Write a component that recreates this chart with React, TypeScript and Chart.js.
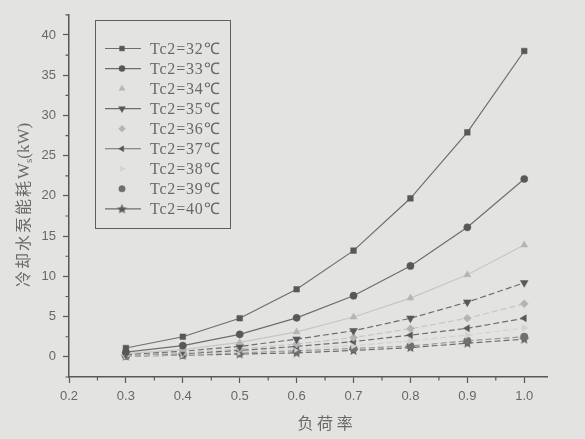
import React, { useEffect, useRef } from "react";
import { Chart, registerables } from "chart.js";
import { drawPoint } from "chart.js/helpers";

Chart.register(...registerables);

const loadRate = [0.3, 0.4, 0.5, 0.6, 0.7, 0.8, 0.9, 1.0];
const tc32 = [1.1, 2.5, 4.8, 8.4, 13.2, 19.7, 27.9, 38.0];
const tc33 = [0.6, 1.4, 2.8, 4.85, 7.6, 11.3, 16.1, 22.1];
const tc34 = [0.4, 0.9, 1.8, 3.1, 4.95, 7.3, 10.2, 13.9];
const tc35 = [0.3, 0.7, 1.3, 2.2, 3.25, 4.8, 6.8, 9.2];
const tc36 = [0.2, 0.5, 1.0, 1.6, 2.4, 3.5, 4.8, 6.6];
const tc37 = [0.2, 0.4, 0.8, 1.3, 1.9, 2.7, 3.55, 4.8];
const tc38 = [0.15, 0.3, 0.6, 1.0, 1.4, 2.0, 2.7, 3.6];
const tc39 = [0.12, 0.25, 0.5, 0.75, 1.05, 1.35, 2.0, 2.5];
const tc40 = [0.1, 0.2, 0.35, 0.5, 0.8, 1.15, 1.7, 2.2];
const seriesNames = [
  "Tc2=32℃", "Tc2=33℃", "Tc2=34℃", "Tc2=35℃", "Tc2=36℃",
  "Tc2=37℃", "Tc2=38℃", "Tc2=39℃", "Tc2=40℃",
];
const allSeries = [tc32, tc33, tc34, tc35, tc36, tc37, tc38, tc39, tc40];
const xTicks = [0.2, 0.3, 0.4, 0.5, 0.6, 0.7, 0.8, 0.9, 1.0];
const xMinorTicks = [0.25, 0.35, 0.45, 0.55, 0.65, 0.75, 0.85, 0.95];
const yTicks = [0, 5, 10, 15, 20, 25, 30, 35, 40];
const yMinorTicks = [-2.5, 2.5, 7.5, 12.5, 17.5, 22.5, 27.5, 32.5, 37.5, 42.5];
const xTitle = "负 荷 率";
const yTitleCjk = "冷却水泵能耗";
const yTitleMain = "W";
const yTitleSub = "s";
const yTitleEnd = "(kW)";

const DARK = "#585858";
const LINE = "#6e6e6e";
const LIGHT = "#b4b4b4";
const LIGHTLINE = "#c6c6c6";
const FAINT = "#d2d2d2";
const TEXT = "#686868";

function makeStar(color: string) {
  const c = document.createElement("canvas");
  c.width = 11;
  c.height = 11;
  const g = c.getContext("2d")!;
  g.fillStyle = color;
  g.beginPath();
  for (let i = 0; i < 10; i++) {
    const r = i % 2 === 0 ? 5.3 : 2.3;
    const a = -Math.PI / 2 + (i * Math.PI) / 5;
    const px = 5.5 + r * Math.cos(a);
    const py = 5.8 + r * Math.sin(a);
    if (i === 0) g.moveTo(px, py);
    else g.lineTo(px, py);
  }
  g.closePath();
  g.fill();
  return c;
}

export default function App() {
  const ref = useRef<HTMLCanvasElement | null>(null);

  useEffect(() => {
    if (!ref.current) return;
    const star = makeStar(DARK);
    const styles = [
      { ps: "rect", r: 4, rot: 0, pc: DARK, lc: LINE, legendLine: true },
      { ps: "circle", r: 3.6, rot: 0, pc: DARK, lc: LINE, legendLine: true },
      { ps: "triangle", r: 4, rot: 0, pc: LIGHT, lc: LIGHTLINE, legendLine: false },
      { ps: "triangle", r: 4.5, rot: 180, pc: DARK, lc: LINE, legendLine: true },
      { ps: "rectRot", r: 4, rot: 0, pc: LIGHT, lc: LIGHTLINE, legendLine: false },
      { ps: "triangle", r: 4, rot: -90, pc: DARK, lc: LINE, legendLine: true },
      { ps: "triangle", r: 4, rot: 90, pc: FAINT, lc: FAINT, legendLine: false },
      { ps: "circle", r: 3.8, rot: 0, pc: "#707070", lc: "#9a9a9a", legendLine: false },
      { ps: star as any, r: 4, rot: 0, pc: DARK, lc: LINE, legendLine: true },
    ];

    const datasets = allSeries.map((s, i) => ({
      label: seriesNames[i],
      data: loadRate.map((x, j) => ({ x, y: s[j] })),
      borderColor: styles[i].lc,
      backgroundColor: styles[i].pc,
      pointBorderColor: styles[i].pc,
      pointBackgroundColor: styles[i].pc,
      pointStyle: styles[i].ps,
      pointRadius: styles[i].r,
      pointRotation: styles[i].rot,
      pointBorderWidth: 0.5,
      borderWidth: 1.2,
      borderDash: i >= 3 ? [6, 3] : [],
      tension: 0,
      fill: false,
    }));

    const extras = {
      id: "extras",
      afterDraw(chart: any) {
        const ctx = chart.ctx as CanvasRenderingContext2D;
        const xs = chart.scales.x;
        const ys = chart.scales.y;
        const area = chart.chartArea;
        ctx.save();
        // minor ticks
        ctx.strokeStyle = DARK;
        ctx.lineWidth = 1.2;
        ctx.beginPath();
        xMinorTicks.forEach((v) => {
          const px = xs.getPixelForValue(v);
          ctx.moveTo(px, area.bottom);
          ctx.lineTo(px, area.bottom + 3.5);
        });
        yMinorTicks.forEach((v) => {
          const py = ys.getPixelForValue(v);
          ctx.moveTo(area.left, py);
          ctx.lineTo(area.left - 3.5, py);
        });
        ctx.stroke();

        // x title
        ctx.fillStyle = "#6a6a6a";
        ctx.font = '16px "Noto Sans CJK SC"';
        ctx.textAlign = "center";
        ctx.textBaseline = "middle";
        ctx.fillText(xTitle, xs.getPixelForValue(0.65), 423);

        // y title with subscript
        ctx.translate(23, 205);
        ctx.rotate(-Math.PI / 2);
        const f1 = '16px "Noto Sans CJK SC"';
        const f2 = '17px "Liberation Serif"';
        const f3 = '11px "Liberation Serif"';
        ctx.font = f1;
        const wCjk = ctx.measureText(yTitleCjk).width + 6 * 2;
        ctx.font = f2;
        const wW = ctx.measureText(yTitleMain).width;
        const wEnd = ctx.measureText(yTitleEnd).width;
        ctx.font = f3;
        const wSub = ctx.measureText(yTitleSub).width;
        const total = wCjk + wW + wSub + wEnd;
        let cx = -total / 2;
        ctx.textAlign = "left";
        ctx.textBaseline = "alphabetic";
        ctx.font = f1;
        (ctx as any).letterSpacing = "2px";
        ctx.fillText(yTitleCjk, cx, 6);
        (ctx as any).letterSpacing = "0px";
        cx += wCjk;
        ctx.font = f2;
        ctx.fillText(yTitleMain, cx, 6);
        cx += wW;
        ctx.font = f3;
        ctx.fillText(yTitleSub, cx, 9);
        cx += wSub;
        ctx.font = f2;
        ctx.fillText(yTitleEnd, cx, 6);
        ctx.setTransform(1, 0, 0, 1, 0, 0);

        // legend box
        ctx.strokeStyle = "#5e5e5e";
        ctx.lineWidth = 1;
        ctx.strokeRect(95.5, 20.5, 135, 208);
        chart.data.datasets.forEach((ds: any, i: number) => {
          const y = 48.5 + i * 20.05;
          const st = styles[i];
          if (st.legendLine) {
            ctx.strokeStyle = LINE;
            ctx.lineWidth = 1.2;
            ctx.beginPath();
            ctx.moveTo(105, y);
            ctx.lineTo(141, y);
            ctx.stroke();
          }
          ctx.fillStyle = st.pc;
          ctx.strokeStyle = st.pc;
          ctx.lineWidth = 0.5;
          drawPoint(ctx, { pointStyle: st.ps, radius: st.r * 0.85, rotation: st.rot, borderWidth: 0.5 } as any, 122, y);
          ctx.fillStyle = TEXT;
          ctx.font = '16px "Liberation Serif"';
          (ctx as any).letterSpacing = "0.8px";
          ctx.textAlign = "left";
          ctx.textBaseline = "middle";
          ctx.fillText(ds.label, 150, y + 1);
          (ctx as any).letterSpacing = "0px";
        });
        ctx.restore();
      },
    };

    const chart = new Chart(ref.current, {
      type: "line",
      data: { datasets: datasets as any },
      plugins: [extras],
      options: {
        animation: false,
        responsive: false,
        layout: { padding: { top: 4, right: 38, bottom: 0, left: 0 } },
        plugins: { legend: { display: false }, tooltip: { enabled: false } },
        scales: {
          x: {
            type: "linear",
            min: 0.2,
            max: 1.04,
            afterBuildTicks: (axis: any) => {
              axis.ticks = xTicks.map((v) => ({ value: v }));
            },
            afterFit: (scale: any) => {
              scale.height = 62;
            },
            grid: { display: true, drawOnChartArea: false, drawTicks: true, tickLength: 6, tickColor: DARK, tickWidth: 1.2 },
            border: { display: true, color: DARK, width: 1.5 },
            ticks: {
              padding: 6,
              color: TEXT,
              font: { family: "Liberation Sans", size: 13 },
              maxRotation: 0,
              callback: (v: any) => Number(v).toFixed(1),
            },
          },
          y: {
            type: "linear",
            min: -2.5,
            max: 42.5,
            afterBuildTicks: (axis: any) => {
              axis.ticks = yTicks.map((v) => ({ value: v }));
            },
            afterFit: (scale: any) => {
              scale.width = 69;
            },
            grid: { display: true, drawOnChartArea: false, drawTicks: true, tickLength: 6, tickColor: DARK, tickWidth: 1.2 },
            border: { display: true, color: DARK, width: 1.5 },
            ticks: {
              padding: 7,
              color: TEXT,
              font: { family: "Liberation Sans", size: 13 },
              callback: (v: any) => String(v),
            },
          },
        },
      },
    });
    return () => chart.destroy();
  }, []);

  return (
    <div style={{ position: "fixed", left: 0, top: 0, width: 585, height: 439, background: "#e3e3e1" }}>
      <canvas ref={ref} width={585} height={439} style={{ display: "block" }} />
    </div>
  );
}
